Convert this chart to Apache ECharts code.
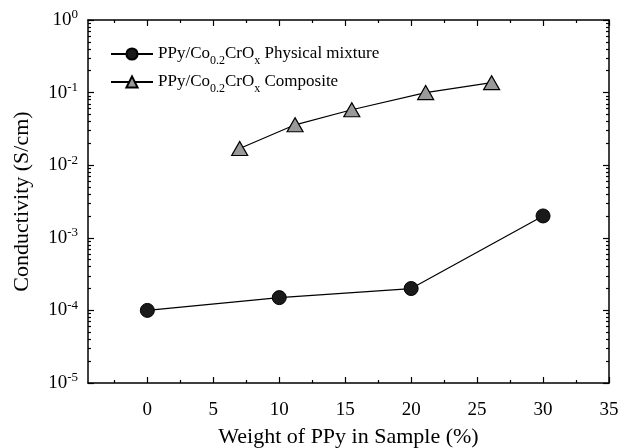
<!DOCTYPE html>
<html>
<head>
<meta charset="utf-8">
<script src="https://cdn.jsdelivr.net/npm/echarts@6/dist/echarts.min.js"></script>
<style>
	html, body { margin: 0; padding: 0; background: #fff; }
	#chart { width: 619px; height: 448px; }
</style>
</head>
<body>
<div id="chart"></div>
<script>
// data
var mixtureX = [0, 10, 20, 30];
var mixtureY = [1.0e-4, 1.5e-4, 2.0e-4, 2.0e-3];
var compositeX = [7, 11.2, 15.5, 21.1, 26.1];
var compositeY = [0.017, 0.036, 0.058, 0.10, 0.137];

var xMajorTicks = [0, 5, 10, 15, 20, 25, 30, 35];
var xMinorTicks = [-2.5, 2.5, 7.5, 12.5, 17.5, 22.5, 27.5, 32.5];
var yDecades = [-5, -4, -3, -2, -1, 0];

var FONT = 'Liberation Serif';

function pairs(xs, ys) {
	var out = [];
	for (var i = 0; i < xs.length; i++) out.push([xs[i], ys[i]]);
	return out;
}

// minor log ticks (2..9 in each decade), on a helper value axis in log10 space
var yMinor = [];
for (var d = 0; d < yDecades.length - 1; d++) {
	for (var k = 2; k <= 9; k++) yMinor.push(yDecades[d] + Math.log10(k));
}

var lineStyle = { color: '#000', width: 1.5 };
var majorTick = { show: true, inside: true, length: 6, lineStyle: { color: '#000', width: 1.2 } };
var minorTick = { show: true, inside: true, length: 3, lineStyle: { color: '#000', width: 1.2 } };

function xAxisDef(pos, ticks, len, showLine, showLabel) {
	return {
		type: 'value', position: pos, min: -4.5, max: 35,
		axisLine: { show: showLine, onZero: false, lineStyle: lineStyle },
		axisTick: { show: true, inside: true, length: len, customValues: ticks, lineStyle: { color: '#000', width: 1.2 } },
		axisLabel: showLabel ? {
			show: true, customValues: ticks, margin: 18,
			fontFamily: FONT, fontSize: 19, color: '#000'
		} : { show: false },
		splitLine: { show: false }
	};
}

// sub/superscripts: padding shifts the small token off the line centre
var option = {
	animation: false,
	backgroundColor: '#fff',
	grid: { left: 88, right: 10, top: 20, bottom: 65, outerBoundsMode: 'none' },
	legend: {
		orient: 'vertical', left: 110, top: 41, padding: 0,
		itemWidth: 42, itemHeight: 14, itemGap: 2,
		textStyle: {
			fontFamily: FONT, fontSize: 17, color: '#000',
			rich: {
				n: { fontFamily: FONT, fontSize: 17, color: '#000', lineHeight: 20 },
				s: { fontFamily: FONT, fontSize: 12, color: '#000', lineHeight: 20, padding: [14, 0, 0, 0] }
			}
		},
		formatter: function (name) {
			var parts = name.split('|');
			return '{n|PPy/Co}{s|0.2}{n|CrO}{s|x}{n| ' + parts[1] + '}';
		},
		data: ['mix|Physical mixture', 'comp|Composite']
	},
	xAxis: [
		Object.assign(xAxisDef('bottom', xMajorTicks, 6, true, true), {
			name: 'Weight of PPy in Sample (%)', nameLocation: 'middle', nameGap: 43,
			nameTextStyle: { fontFamily: FONT, fontSize: 22, color: '#000' }
		}),
		xAxisDef('bottom', xMinorTicks, 3, false, false),
		xAxisDef('top', xMajorTicks, 6, true, false),
		xAxisDef('top', xMinorTicks, 3, false, false)
	],
	yAxis: [
		{
			type: 'log', logBase: 10, min: 1e-5, max: 1, position: 'left',
			name: 'Conductivity (S/cm)', nameLocation: 'middle', nameGap: 55,
			nameTextStyle: { fontFamily: FONT, fontSize: 22, color: '#000' },
			axisLine: { show: true, onZero: false, lineStyle: lineStyle },
			axisTick: majorTick,
			axisLabel: {
				margin: 10, color: '#000',
				formatter: function (v) {
					return '{b|10}{p|' + Math.round(Math.log10(v)) + '}';
				},
				rich: {
					b: { fontFamily: FONT, fontSize: 19, color: '#000', lineHeight: 20 },
					p: { fontFamily: FONT, fontSize: 13, color: '#000', lineHeight: 20, padding: [0, 0, 10, 0] }
				}
			},
			splitLine: { show: false }
		},
		{
			type: 'value', min: -5, max: 0, position: 'left',
			axisLine: { show: false, onZero: false },
			axisTick: Object.assign({ customValues: yMinor }, minorTick),
			axisLabel: { show: false }, splitLine: { show: false }
		},
		{
			type: 'log', logBase: 10, min: 1e-5, max: 1, position: 'right',
			axisLine: { show: true, onZero: false, lineStyle: lineStyle },
			axisTick: majorTick, axisLabel: { show: false }, splitLine: { show: false }
		},
		{
			type: 'value', min: -5, max: 0, position: 'right',
			axisLine: { show: false, onZero: false },
			axisTick: Object.assign({ customValues: yMinor }, minorTick),
			axisLabel: { show: false }, splitLine: { show: false }
		}
	],
	series: [
		{
			name: 'mix|Physical mixture', type: 'line',
			xAxisIndex: 0, yAxisIndex: 0,
			data: pairs(mixtureX, mixtureY),
			symbol: 'circle', symbolSize: 14,
			itemStyle: { color: '#1a1a1a', borderColor: '#000', borderWidth: 1 },
			lineStyle: { color: '#000', width: 1.2 }
		},
		{
			name: 'comp|Composite', type: 'line',
			xAxisIndex: 0, yAxisIndex: 0,
			data: pairs(compositeX, compositeY),
			symbol: 'triangle', symbolSize: [16, 14],
			itemStyle: { color: '#999999', borderColor: '#000', borderWidth: 1.2 },
			lineStyle: { color: '#000', width: 1.2 }
		}
	]
};

var myChart = echarts.init(document.getElementById('chart'));
myChart.setOption(option);
</script>
</body>
</html>
